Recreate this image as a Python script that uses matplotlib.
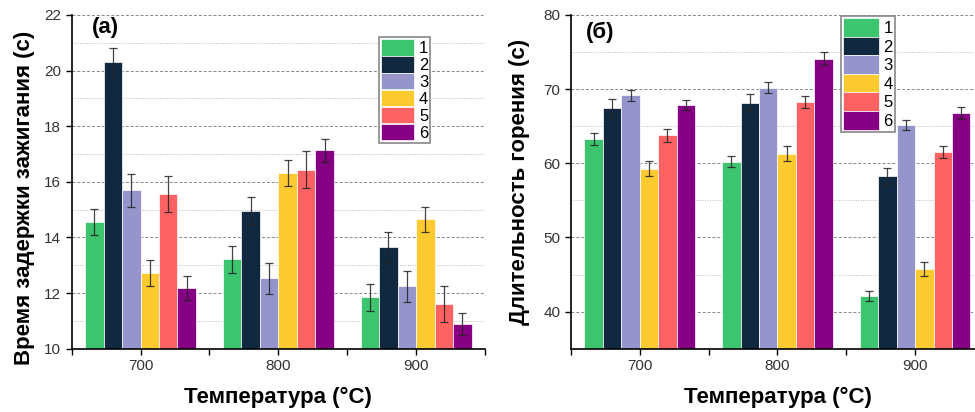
import numpy as np
import matplotlib.pyplot as plt
from matplotlib.ticker import MultipleLocator

plt.rcParams['font.family'] = ['Liberation Sans', 'DejaVu Sans']

# ---- data ----
temps = [700, 800, 900]
series = ['1', '2', '3', '4', '5', '6']
colors = ['#3cc46e', '#102840', '#9595cc', '#fdca30', '#fe6262', '#850082']

# (a) ignition delay time, s  (rows = series 1..6, cols = 700/800/900)
delay = [
    [14.57, 13.22, 11.85],
    [20.30, 14.97, 13.66],
    [15.69, 12.53, 12.24],
    [12.71, 16.32, 14.65],
    [15.57, 16.44, 11.61],
    [12.19, 17.13, 10.88],
]
delay_err = [
    [0.47, 0.48, 0.49],
    [0.52, 0.50, 0.53],
    [0.60, 0.56, 0.56],
    [0.47, 0.46, 0.46],
    [0.65, 0.66, 0.66],
    [0.43, 0.40, 0.40],
]

# (b) burning duration, s
burn = [
    [63.28, 60.22, 42.16],
    [67.42, 68.18, 58.25],
    [69.17, 70.20, 65.17],
    [59.28, 61.30, 45.71],
    [63.78, 68.22, 61.53],
    [67.87, 74.11, 66.83],
]
burn_err = [
    [0.76, 0.72, 0.67],
    [1.20, 1.12, 1.17],
    [0.76, 0.77, 0.63],
    [1.00, 1.03, 0.94],
    [0.85, 0.80, 0.81],
    [0.72, 0.85, 0.81],
]

fig = plt.figure(figsize=(9.75, 4.12), dpi=100)
fig.patch.set_facecolor('white')

ax1 = fig.add_axes([0.0735, 0.1536, 0.424, 0.81])
ax2 = fig.add_axes([0.5856, 0.1536, 0.4236, 0.81])

width = 13.4


def draw(ax, vals, errs, ylim, major, minor, ylabel, tag, tag_xy, leg_xy, hlen, hhei):
    x = np.array(temps, dtype=float)
    handles = []
    for i, (v, e) in enumerate(zip(vals, errs)):
        pos = x + (i - 2.5) * width
        b = ax.bar(pos, v, width=width, color=colors[i], edgecolor='white',
                   linewidth=0.5, zorder=2, label=series[i])
        ax.errorbar(pos, v, yerr=e, fmt='none', ecolor='#222222', elinewidth=0.9,
                    capsize=3, capthick=0.9, alpha=0.85, zorder=3)
        handles.append(b)

    ax.set_xlim(650, 950)
    ax.set_ylim(*ylim)
    ax.set_xticks(temps)
    ax.xaxis.set_minor_locator(MultipleLocator(50))
    ax.yaxis.set_major_locator(MultipleLocator(major))
    ax.yaxis.set_minor_locator(MultipleLocator(minor))

    ax.grid(True, which='major', axis='y', color='#888888', linestyle=(0, (3, 2)),
            linewidth=0.7, zorder=0)
    ax.grid(True, which='minor', axis='y', color='#bbbbbb', linestyle=(0, (1, 1.5)),
            linewidth=0.7, zorder=0)
    ax.set_axisbelow(True)

    for s in ['top', 'right']:
        ax.spines[s].set_visible(False)
    for s in ['left', 'bottom']:
        ax.spines[s].set_linewidth(1.2)

    ax.tick_params(axis='both', which='major', direction='out', length=4,
                   width=1.0, labelsize=11, labelcolor='#333333')
    ax.tick_params(axis='x', which='minor', direction='out', length=4, width=1.0)
    ax.tick_params(axis='y', which='minor', length=0)

    ax.set_xlabel('Температура (°C)', fontsize=16, fontweight='bold')
    ax.set_ylabel(ylabel, fontsize=16, fontweight='bold')
    ax.text(tag_xy[0], tag_xy[1], tag, transform=ax.transAxes, fontsize=16,
            fontweight='bold', va='top', ha='left')

    leg = ax.legend(handles=handles, loc='upper left', bbox_to_anchor=leg_xy,
                    bbox_transform=fig.transFigure, fontsize=12, handlelength=hlen,
                    handleheight=hhei, labelspacing=0.0, handletextpad=0.3,
                    borderpad=0.12, borderaxespad=0, frameon=True, fancybox=False,
                    edgecolor='#888888', framealpha=1.0)
    leg.get_frame().set_linewidth(1.2)


draw(ax1, delay, delay_err, (10, 22), 2, 1, 'Время задержки зажигания (с)', '(a)',
     (0.05, 0.995), (0.3884, 0.910), 2.0, 1.15)
draw(ax2, burn, burn_err, (35, 80), 10, 5, 'Длительность горения (с)', '(б)',
     (0.036, 0.98), (0.8623, 0.961), 2.15, 1.34)

ax1.xaxis.set_label_coords(0.5, -0.115)
ax2.xaxis.set_label_coords(0.5, -0.115)
ax1.yaxis.set_label_coords(-0.089, 0.452)
ax2.yaxis.set_label_coords(-0.099, 0.5)

fig.savefig('out.png', dpi=100, facecolor='white')
